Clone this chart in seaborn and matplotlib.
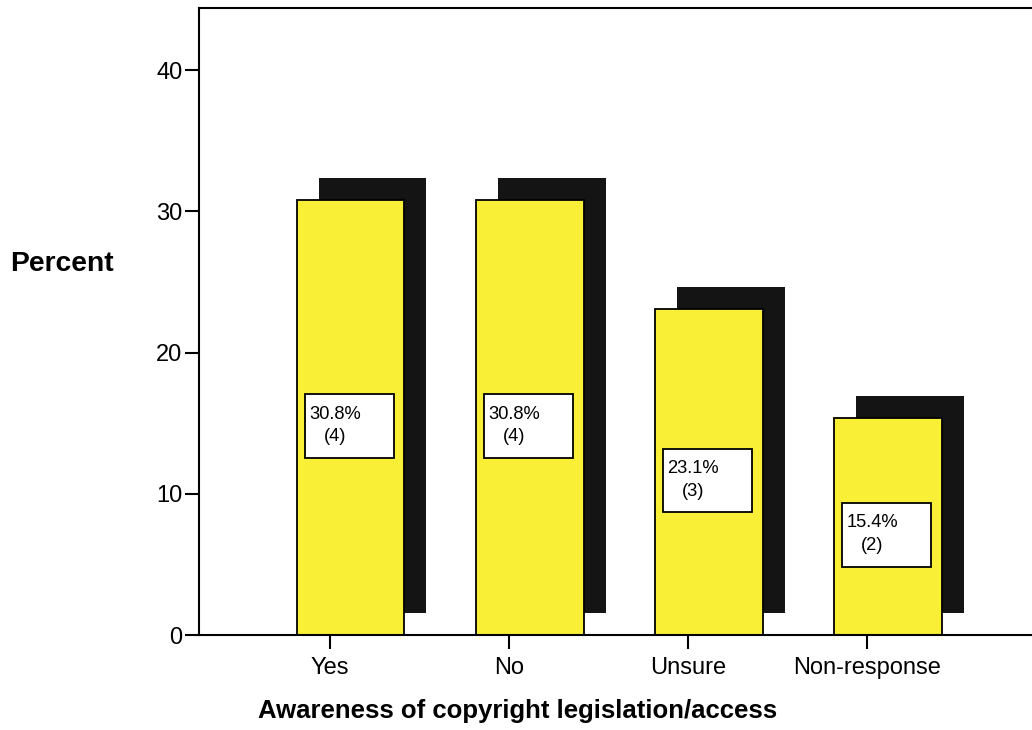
import seaborn as sns
import matplotlib.pyplot as plt
import matplotlib.transforms as mtransforms
from matplotlib.patches import Rectangle
import pandas as pd

# data
categories = ["Yes", "No", "Unsure", "Non-response"]
percents = [30.8, 30.8, 23.1, 15.4]
counts = [4, 4, 3, 2]

df = pd.DataFrame({"awareness": categories, "percent": percents})

sns.set_style("ticks")
plt.rcParams['font.family'] = ['Liberation Sans', 'DejaVu Sans']
plt.rcParams['text.color'] = 'black'
plt.rcParams['axes.labelcolor'] = 'black'

fig = plt.figure(figsize=(10.32, 7.30), dpi=100)
ax = fig.add_axes([0.1928, 0.130, 0.8072, 0.859])

# black "3d" shadow first, then the yellow bars on top
sns.barplot(data=df, x="awareness", y="percent", color="#141414",
            width=0.6, saturation=1, linewidth=0, ax=ax, zorder=1)
n_shadow = len(ax.patches)
sns.barplot(data=df, x="awareness", y="percent", color="#f8ef36",
            width=0.6, saturation=1, edgecolor="black", linewidth=1.3,
            ax=ax, zorder=2)

# bars sit a bit right of the tick, shadow shifted right/up
bar_shift = mtransforms.ScaledTranslation(21 / 100, 0, fig.dpi_scale_trans)
shadow_shift = mtransforms.ScaledTranslation(43 / 100, 22 / 100, fig.dpi_scale_trans)
for i, p in enumerate(ax.patches):
    if i < n_shadow:
        p.set_transform(ax.transData + shadow_shift)
    else:
        p.set_transform(ax.transData + bar_shift)

# value boxes
box_w = 0.497
box_h = 4.5
for i, (v, c) in enumerate(zip(percents, counts)):
    yc = v / 2 - 0.6
    x0 = i - 0.14
    ax.add_patch(Rectangle((x0, yc - box_h / 2), box_w, box_h, facecolor="white",
                           edgecolor="black", linewidth=1.3, zorder=3))
    ax.text(x0 + 0.025, yc + box_h / 2 - 0.8, f"{v}%", ha="left", va="top",
            fontsize=13.2, zorder=4)
    ax.text(x0 + 0.17, yc + box_h / 2 - 2.4, f"({c})", ha="center", va="top",
            fontsize=13.2, zorder=4)

ax.set_xlim(-0.73, 3.92)
ax.set_ylim(0, 44.4)
ax.set_yticks([0, 10, 20, 30, 40])
ax.tick_params(axis="both", direction="out", length=10, width=1.5,
               labelsize=17, colors="black")
ax.tick_params(axis="x", pad=6)
ax.tick_params(axis="y", pad=2)

for s in ["left", "bottom", "top"]:
    ax.spines[s].set_linewidth(1.5)
    ax.spines[s].set_color("black")
ax.spines["right"].set_visible(False)

ax.set_xlabel("Awareness of copyright legislation/access", fontsize=18.5,
              fontweight="bold")
ax.xaxis.set_label_coords(0.383, -0.121)
ax.xaxis.label.set_verticalalignment("center")
ax.set_ylabel("")
fig.text(0.0097, 0.638, "Percent", fontsize=20.3, fontweight="bold",
         ha="left", va="center")

fig.savefig("out.png", dpi=100)
